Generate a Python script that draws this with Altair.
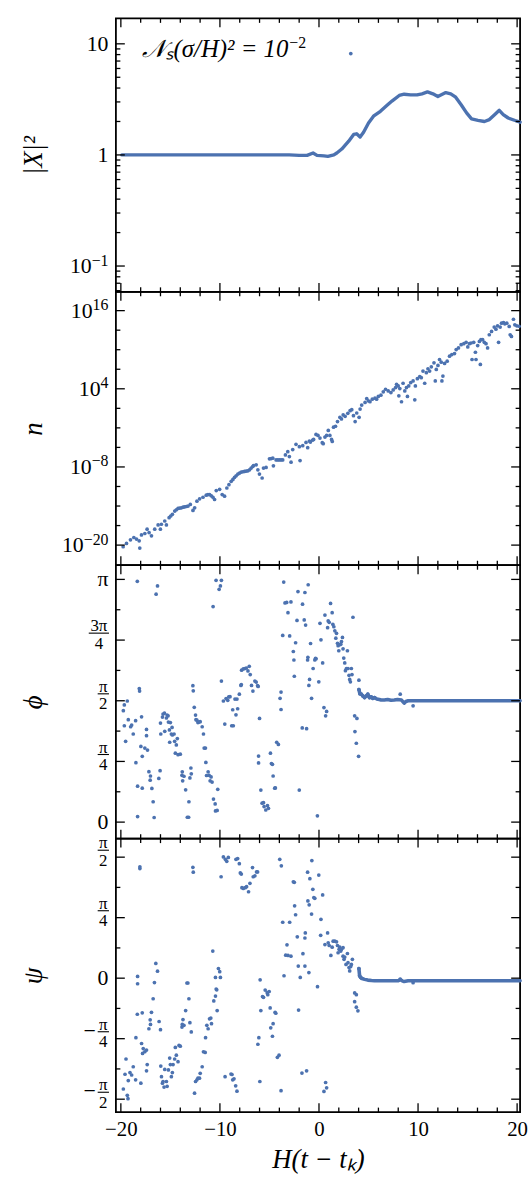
import numpy as np
import pandas as pd
import altair as alt

FONT = "Liberation Serif"
BLUE = "#4c72b0"
W, H = 408, 276
TMAJ, TMIN = 9, 4.5

# ---------------- shared x axis ----------------
x_domain = [-20.5, 20.3]
x_major = [-20, -10, 0, 10, 20]
x_minor = [-18, -16, -14, -12, -8, -6, -4, -2, 2, 4, 6, 8, 12, 14, 16, 18]

# ---------------- panel 1 : |X|^2 ----------------
x1 = [-19.9, -10.0, -3.0, -2.0, -1.2, -0.6, -0.2, 0.5, 0.9, 1.5,
      1.8, 2.3, 3.0, 3.5, 3.8, 4.15, 4.5, 5.0, 5.5, 6.2,
      6.9, 7.4, 8.1, 8.6, 9.25, 9.9, 10.4, 10.95, 11.5, 12.0,
      12.8, 13.3, 13.8, 14.35, 14.9, 15.4, 16.05, 16.7, 17.2, 17.75,
      18.2, 18.6, 19.1, 19.8, 20.3]
X2 = [1.0, 1.0, 1.0, 0.99, 0.99, 1.04, 0.99, 0.98, 0.97, 1.0,
      1.04, 1.13, 1.33, 1.53, 1.55, 1.45, 1.60, 1.94, 2.23, 2.47,
      2.81, 3.07, 3.43, 3.52, 3.47, 3.47, 3.55, 3.69, 3.55, 3.36,
      3.64, 3.55, 3.31, 2.83, 2.39, 2.11, 2.05, 2.00, 2.08, 2.31,
      2.52, 2.31, 2.15, 2.04, 1.97]
x1_stray = [3.21]
X2_stray = [8.17]
y1_domain = [0.0586, 16.94]
y1_major = [0.1, 1, 10]
y1_minor = [0.06, 0.07, 0.08, 0.09, 0.2, 0.3, 0.4, 0.5, 0.6, 0.7, 0.8, 0.9,
            2, 3, 4, 5, 6, 7, 8, 9]
y1_base = ["10", "1", "10"]
y1_exp = ["−1", "", ""]
note_x = [-3.1]
note_y = [8.9]
note_text = ["𝒩ₛ(σ/H)² = 10"]
note_exp = ["−2"]

# ---------------- panel 2 : n (log10 of n) ----------------
x2 = [-19.77, -19.43, -19.03, -18.69, -18.42, -18.15, -18.09, -17.92, -17.58, -17.35,
      -17.15, -16.91, -16.58, -16.24, -16.01, -15.91, -15.57, -15.40, -15.13, -14.97,
      -14.80, -14.56, -14.40, -14.23, -14.06, -13.89, -13.72, -13.56, -13.39, -13.22,
      -12.99, -12.72, -12.55, -12.32, -12.05, -11.71, -11.38, -11.21, -11.04, -10.87,
      -10.70, -10.54, -10.37, -10.03, -9.77, -9.53, -9.30, -9.09, -8.86, -8.69,
      -8.52, -8.36, -8.19, -8.02, -7.85, -7.68, -7.52, -7.35, -7.18, -7.01,
      -6.85, -6.68, -6.61, -6.34, -6.17, -6.01, -5.74, -5.60, -5.34, -5.00,
      -4.83, -4.66, -4.60, -4.33, -4.16, -3.99, -3.82, -3.66, -3.39, -3.15,
      -2.99, -2.82, -2.65, -2.32, -1.98, -1.91, -1.64, -1.31, -1.14, -0.97,
      -0.87, -0.64, -0.54, -0.30, -0.10, 0.10, 0.33, 0.43, 0.60, 0.77,
      0.94, 1.10, 1.27, 1.34, 1.47, 1.67, 1.87, 2.11, 2.27, 2.44,
      2.64, 2.91, 3.14, 3.31, 3.48, 3.65, 3.81, 4.05, 4.15, 4.31,
      4.65, 4.82, 4.98, 5.15, 5.38, 5.65, 5.82, 5.99, 6.25, 6.49,
      6.72, 6.99, 7.26, 7.49, 7.73, 7.83, 8.00, 8.06, 8.16, 8.33,
      8.49, 8.66, 8.83, 8.93, 9.06, 9.26, 9.50, 9.67, 9.73, 9.93,
      10.17, 10.33, 10.50, 10.67, 10.84, 11.00, 11.17, 11.34, 11.61, 11.74,
      11.84, 12.01, 12.17, 12.34, 12.41, 12.51, 12.68, 12.94, 13.18, 13.41,
      13.68, 13.85, 14.08, 14.35, 14.62, 14.85, 15.02, 15.18, 15.35, 15.45,
      15.62, 15.79, 15.85, 16.02, 16.19, 16.29, 16.35, 16.52, 16.69, 16.86,
      17.02, 17.19, 17.42, 17.69, 17.86, 18.03, 18.13, 18.29, 18.43, 18.63,
      18.76, 18.96, 19.20, 19.30, 19.43, 19.63, 19.77, 19.97, 20.20]
n_exp = [-20.25, -19.74, -19.19, -18.83, -19.08, -19.34, -20.45, -18.43, -18.22, -17.56,
         -18.07, -18.58, -17.56, -16.90, -17.56, -16.80, -16.30, -16.90, -15.79, -15.53,
         -15.28, -14.77, -14.57, -14.37, -14.32, -14.27, -14.17, -14.12, -14.07, -14.01,
         -13.76, -14.67, -14.27, -13.25, -12.90, -12.65, -12.34, -12.24, -12.24, -12.44,
         -12.65, -13.00, -11.63, -11.43, -12.24, -12.49, -11.23, -10.72, -10.21, -9.91,
         -9.60, -9.35, -9.10, -8.94, -8.79, -8.74, -8.69, -8.64, -8.59, -8.44,
         -8.18, -7.93, -7.78, -7.68, -8.44, -9.10, -9.70, -8.18, -8.08, -6.76,
         -6.71, -6.66, -7.83, -6.92, -6.92, -6.92, -6.92, -6.92, -6.16, -5.65,
         -6.41, -7.27, -5.34, -4.53, -4.89, -7.02, -4.74, -4.23, -5.04, -4.03,
         -4.18, -3.87, -3.77, -3.00, -3.16, -3.57, -4.28, -4.43, -3.42, -3.16,
         -2.40, -3.16, -3.77, -4.08, -1.90, -1.75, -1.04, -0.38, -0.63, -0.02,
         -0.22, 0.23, 0.64, 0.79, -0.12, -1.04, 0.28, -0.38, 0.89, 1.50,
         1.91, 2.51, 2.16, 2.01, 2.41, 2.56, 2.41, 2.82, 3.02, 3.53,
         3.93, 3.68, 3.42, 3.83, 4.19, 4.69, 4.44, 2.92, 4.03, 2.01,
         4.85, 3.68, 4.19, 2.82, 4.44, 4.95, 5.20, 2.31, 4.44, 5.56,
         5.86, 5.71, 6.72, 4.85, 6.47, 7.08, 6.72, 7.38, 7.99, 5.20,
         6.98, 7.58, 8.50, 8.09, 5.20, 5.96, 7.89, 8.24, 9.00, 9.26,
         9.41, 10.02, 10.27, 10.78, 10.93, 11.13, 10.42, 10.93, 11.03, 8.50,
         11.13, 9.61, 8.50, 10.63, 11.28, 7.74, 11.54, 11.54, 11.13, 10.93,
         10.27, 12.30, 12.81, 13.47, 13.16, 13.67, 11.13, 13.47, 14.07, 14.17,
         13.97, 14.07, 13.57, 12.30, 12.04, 14.68, 13.82, 13.67, 13.60]
y2_domain = [8.13e-24, 7.76e18]
y2_major = [1e-20, 1e-8, 1e4, 1e16]
y2_minor = [1e-17, 1e-14, 1e-11, 1e-5, 1e-2, 1e1, 1e7, 1e10, 1e13]
y2_base = ["10", "10", "10", "10"]
y2_exp = ["−20", "−8", "4", "16"]

# ---------------- panel 3 : phi (in units of pi) ----------------
x3 = [-19.75, -19.65, -19.52, -19.65, -19.35, -19.25, -19.01, -18.91, -18.75, -18.51,
      -18.48, -18.34, -18.31, -18.31, -18.14, -18.11, -17.98, -17.91, -17.84, -17.84,
      -17.58, -17.41, -17.41, -17.31, -17.17, -17.04, -17.01, -16.87, -16.74, -16.64,
      -16.44, -16.30, -16.17, -16.04, -16.00, -15.97, -15.80, -15.74, -15.60, -15.57,
      -15.40, -15.33, -15.23, -15.20, -15.10, -15.07, -15.00, -14.90, -14.83, -14.80,
      -14.63, -14.57, -14.50, -14.40, -14.30, -14.23, -14.00, -13.83, -13.80, -13.76,
      -13.63, -13.46, -13.29, -13.16, -13.13, -12.93, -12.89, -13.03, -12.73, -12.69,
      -12.59, -12.46, -12.42, -12.32, -12.22, -12.12, -11.99, -11.79, -11.66, -11.59,
      -11.46, -11.42, -11.35, -11.19, -11.09, -10.99, -10.89, -10.79, -10.65, -10.48,
      -10.45, -10.28, -10.69, -10.39, -10.08, -9.95, -9.85, -10.22, -9.85, -9.65,
      -9.51, -9.38, -9.21, -9.11, -8.98, -8.81, -8.71, -8.65, -8.48, -8.38,
      -8.28, -8.21, -8.04, -7.88, -7.84, -7.81, -7.64, -7.47, -7.34, -7.17,
      -7.04, -6.94, -6.81, -6.67, -6.47, -6.34, -6.20, -6.14, -6.00, -6.10,
      -6.10, -5.87, -5.74, -5.60, -5.54, -5.37, -5.20, -5.10, -4.90, -4.80,
      -4.70, -4.63, -4.47, -4.40, -4.27, -4.10, -3.93, -3.83, -3.83, -3.66,
      -3.56, -3.43, -3.26, -3.13, -2.96, -2.83, -2.59, -2.53, -2.49, -2.36,
      -2.22, -2.12, -1.99, -1.69, -1.66, -1.49, -1.42, -1.35, -1.25, -1.15,
      -1.12, -1.09, -1.02, -0.95, -0.85, -0.75, -0.59, -0.42, -0.35, -0.29,
      -0.16, -0.02, 0.10, 0.20, 0.37, 0.50, 0.60, 0.67, 0.77, 0.87,
      0.93, 1.03, 1.17, 1.33, 1.40, 1.50, 1.60, 1.70, 1.77, 1.87,
      1.93, 2.00, 2.10, 2.20, 2.27, 2.37, 2.43, 2.50, 2.60, 2.67,
      2.77, 2.87, 2.93, 3.03, 3.10, 3.17, 3.27, 3.33, 3.43, 3.60,
      3.63, 3.77, 3.83, 4.00, 4.03, 4.03, 4.13, 4.27, 4.43, 4.60,
      4.77, 4.93, 5.10, 5.27, 5.43, 5.60, 8.20, 9.50]
phi = [0.459, 0.483, 0.333, 0.397, 0.499, 0.422, 0.393, 0.400, 0.363, 0.418,
       0.245, 0.992, 0.023, 0.148, 0.550, 0.540, 0.312, 0.434, 0.140, 0.271,
       0.305, 0.382, 0.356, 0.297, 0.208, 0.173, 0.190, 0.139, 0.084, 0.019,
       0.939, 0.973, 0.180, 0.212, 0.408, 0.363, 0.433, 0.445, 0.449, 0.374,
       0.429, 0.441, 0.438, 0.412, 0.380, 0.329, 0.410, 0.363, 0.390, 0.359,
       0.363, 0.333, 0.284, 0.318, 0.344, 0.278, 0.280, 0.193, 0.207, 0.170,
       0.189, 0.133, 0.020, 0.020, 0.084, 0.223, 0.199, 0.182, 0.562, 0.541,
       0.473, 0.441, 0.422, 0.420, 0.410, 0.412, 0.414, 0.393, 0.363, 0.305,
       0.305, 0.246, 0.192, 0.207, 0.193, 0.170, 0.186, 0.165, 0.095, 0.075,
       0.046, 0.048, 0.888, 0.996, 0.959, 0.973, 0.996, 0.135, 0.581, 0.499,
       0.404, 0.509, 0.502, 0.516, 0.517, 0.397, 0.463, 0.397, 0.507, 0.442,
       0.507, 0.467, 0.527, 0.563, 0.567, 0.626, 0.631, 0.633, 0.635, 0.623,
       0.642, 0.608, 0.563, 0.540, 0.581, 0.577, 0.562, 0.559, 0.427, 0.272,
       0.244, 0.132, 0.078, 0.080, 0.064, 0.050, 0.068, 0.057, 0.284, 0.241,
       0.238, 0.190, 0.140, 0.141, 0.329, 0.320, 0.510, 0.536, 0.464, 0.769,
       0.989, 0.903, 0.905, 0.863, 0.767, 0.907, 0.703, 0.668, 0.601, 0.739,
       0.831, 0.950, 0.132, 0.388, 0.898, 0.833, 0.946, 0.812, 0.385, 0.668,
       0.679, 0.978, 0.563, 0.588, 0.736, 0.510, 0.633, 0.668, 0.675, 0.673,
       0.026, 0.578, 0.819, 0.751, 0.656, 0.472, 0.853, 0.438, 0.456, 0.801,
       0.829, 0.823, 0.901, 0.863, 0.815, 0.805, 0.788, 0.758, 0.778, 0.737,
       0.727, 0.706, 0.731, 0.733, 0.744, 0.761, 0.714, 0.676, 0.656, 0.624,
       0.633, 0.706, 0.633, 0.605, 0.588, 0.578, 0.633, 0.608, 0.844, 0.438,
       0.373, 0.325, 0.427, 0.271, 0.585, 0.546, 0.529, 0.527, 0.520, 0.513,
       0.520, 0.527, 0.513, 0.516, 0.510, 0.513, 0.527, 0.479]
x3_dense = [4.03, 4.13, 4.27, 4.43, 4.60, 4.77, 4.93, 5.10, 5.27, 5.43,
            5.60, 5.77, 5.93, 6.10, 6.27, 6.60, 6.93, 7.27, 7.60, 7.93,
            8.33, 8.60, 8.77, 9.00, 12.0, 16.0, 20.3]
phi_dense = [0.546, 0.529, 0.527, 0.520, 0.513, 0.520, 0.527, 0.513, 0.516, 0.510,
             0.513, 0.509, 0.506, 0.505, 0.503, 0.503, 0.505, 0.502, 0.503, 0.505,
             0.503, 0.490, 0.497, 0.500, 0.500, 0.500, 0.500]
y3_domain = [-0.0681, 1.0584]
y3_major = [0, 0.25, 0.5, 0.75, 1]
y3_minor = [0.125, 0.375, 0.625, 0.875]

# ---------------- panel 4 : psi (in units of pi) ----------------
x4 = [-19.75, -19.58, -19.48, -19.35, -19.28, -19.25, -19.08, -18.91, -18.75, -18.51,
      -18.48, -18.34, -18.31, -18.31, -18.08, -18.08, -17.98, -17.91, -17.84, -17.81,
      -17.74, -17.58, -17.41, -17.41, -17.34, -17.17, -17.04, -17.01, -16.91, -16.74,
      -16.61, -16.47, -16.30, -16.14, -16.00, -15.97, -15.90, -15.80, -15.74, -15.64,
      -15.57, -15.40, -15.33, -15.20, -15.07, -15.00, -14.90, -14.80, -14.73, -14.57,
      -14.50, -14.40, -14.23, -14.13, -14.00, -13.83, -13.80, -13.73, -13.63, -13.46,
      -13.33, -13.23, -13.13, -13.03, -12.89, -12.73, -12.69, -12.56, -12.46, -12.32,
      -12.22, -12.06, -11.99, -11.79, -11.66, -11.49, -11.45, -11.32, -11.19, -11.05,
      -10.92, -10.85, -10.62, -10.45, -10.38, -10.32, -10.45, -10.28, -10.72, -10.15,
      -10.02, -9.95, -9.88, -9.65, -9.45, -9.31, -9.15, -9.48, -8.88, -8.78,
      -8.71, -8.58, -8.41, -8.28, -8.21, -8.38, -8.04, -7.94, -7.84, -7.78,
      -7.64, -7.44, -7.31, -7.11, -6.97, -6.71, -6.64, -6.47, -6.30, -6.20,
      -6.07, -6.17, -5.97, -5.87, -5.94, -5.70, -5.60, -5.43, -5.23, -5.17,
      -5.03, -4.93, -4.87, -4.70, -4.63, -4.43, -4.36, -4.20, -4.03, -3.96,
      -3.80, -3.83, -3.66, -3.53, -3.36, -3.23, -3.13, -2.96, -2.83, -2.59,
      -2.49, -2.46, -2.36, -2.19, -2.06, -2.09, -1.89, -1.72, -1.62, -1.42,
      -1.42, -1.38, -1.25, -1.15, -1.12, -1.02, -0.99, -0.92, -0.75, -0.72,
      -0.62, -0.52, -0.42, -0.15, -0.02, 0.20, 0.37, 0.17, 0.50, 0.67,
      0.77, 0.60, 0.87, 0.93, 1.03, 1.20, 1.33, 1.43, 1.60, 1.77,
      1.87, 1.93, 2.03, 2.10, 2.20, 2.27, 2.43, 2.43, 2.53, 2.60,
      2.73, 2.87, 2.93, 3.03, 3.10, 3.20, 3.27, 3.37, 3.60, 3.77,
      3.60, 3.77, 3.93, 4.03, 4.10, 4.20, 4.33, 8.20, 9.50]
psi = [-0.458, -0.397, -0.334, -0.484, -0.498, -0.423, -0.390, -0.400, -0.366, -0.420,
       -0.246, -0.149, -0.023, 0.007, 0.453, 0.460, -0.434, -0.270, -0.143, -0.311,
       -0.291, -0.304, -0.297, -0.383, -0.357, -0.209, -0.172, -0.191, -0.141, -0.085,
       -0.018, 0.061, 0.029, -0.179, -0.213, -0.363, -0.407, -0.434, -0.427, -0.450,
       -0.377, -0.427, -0.447, -0.379, -0.330, -0.357, -0.407, -0.390, -0.357, -0.334,
       -0.286, -0.318, -0.345, -0.278, -0.281, -0.202, -0.191, -0.171, -0.195, -0.134,
       -0.020, -0.020, -0.085, -0.184, -0.222, 0.458, 0.438, -0.475, -0.427, -0.420,
       -0.413, -0.413, -0.393, -0.366, -0.304, -0.307, -0.246, -0.195, -0.209, -0.168,
       -0.165, -0.188, -0.094, -0.074, -0.045, -0.048, 0.003, -0.134, 0.112, 0.040,
       0.027, 0.003, 0.419, 0.501, 0.491, 0.483, 0.499, -0.407, -0.396, -0.398,
       -0.420, -0.416, -0.445, -0.467, 0.494, 0.491, 0.473, 0.435, 0.430, 0.374,
       0.371, 0.374, 0.378, 0.357, 0.392, 0.457, 0.419, 0.423, 0.439, 0.439,
       -0.246, -0.273, -0.427, -0.134, -0.007, -0.076, -0.079, -0.049, -0.060, -0.068,
       -0.055, -0.123, -0.205, -0.240, -0.188, -0.141, -0.145, -0.327, -0.318, 0.491,
       0.464, -0.465, 0.231, 0.010, 0.095, 0.138, 0.094, 0.231, 0.091, 0.398,
       0.396, 0.299, 0.262, 0.171, -0.132, 0.050, 0.003, -0.392, 0.101, 0.166,
       0.050, 0.187, -0.383, 0.438, 0.319, 0.023, 0.303, 0.411, 0.265, 0.486,
       0.367, 0.333, 0.330, -0.035, 0.426, 0.243, 0.344, 0.177, -0.468, -0.431,
       -0.453, 0.139, 0.187, 0.146, 0.135, 0.094, 0.128, 0.153, 0.153, 0.150,
       0.135, 0.105, 0.119, 0.128, 0.112, 0.119, 0.126, 0.091, 0.078, 0.087,
       0.057, 0.102, 0.064, 0.044, 0.030, 0.048, 0.057, 0.078, -0.061, -0.068,
       -0.097, -0.120, -0.135, 0.040, 0.010, 0.003, -0.001, -0.004, -0.019]
x4_dense = [4.03, 4.10, 4.20, 4.33, 4.60, 4.93, 5.30, 5.60, 6.90, 8.00,
            8.20, 8.40, 8.60, 9.00, 12.0, 16.0, 20.3]
psi_dense = [0.040, 0.010, 0.003, -0.001, -0.005, -0.008, -0.010, -0.011, -0.011, -0.011,
             -0.006, -0.011, -0.014, -0.011, -0.011, -0.011, -0.011]
y4_domain = [-0.5532, 0.5765]
y4_major = [-0.5, -0.25, 0, 0.25, 0.5]
y4_minor = [-0.375, -0.125, 0.125, 0.375]

# ======================================================================
XS = alt.Scale(domain=x_domain, nice=False, zero=False)
LABEL_X = -7.5   # right edge of the y tick labels (pixels from the frame)
EXP_FS = 16      # exponent font size


def title_axis(txt):
    return alt.Axis(title=txt, labels=False, ticks=False, domain=False, grid=False,
                    titleX=-83, titleY=H / 2, titleAngle=270, titleAlign="center",
                    titleBaseline="middle", titleFont=FONT, titleFontSize=27,
                    titleFontStyle="italic", titleFontWeight="normal", titleColor="black")


def make_panel(ys, yaxis, xaxis, y_major, y_minor, content):
    def X(f):
        return alt.X(f"{f}:Q", scale=XS, axis=xaxis)

    def Y(f):
        return alt.Y(f"{f}:Q", scale=ys, axis=yaxis)

    layers = list(content(X, Y))
    for vals, L in ((x_major, TMAJ), (x_minor, TMIN)):
        r = alt.Chart(pd.DataFrame({"tx": vals})).mark_rule(color="black", strokeWidth=1.3)
        layers.append(r.encode(x=X("tx"), y=alt.value(0), y2=alt.value(L)))
        layers.append(r.encode(x=X("tx"), y=alt.value(H), y2=alt.value(H - L)))
    for vals, L in ((y_major, TMAJ), (y_minor, TMIN)):
        r = alt.Chart(pd.DataFrame({"ty": vals})).mark_rule(color="black", strokeWidth=1.3)
        layers.append(r.encode(y=Y("ty"), x=alt.value(0), x2=alt.value(L)))
        layers.append(r.encode(y=Y("ty"), x=alt.value(W), x2=alt.value(W - L)))
    return alt.layer(*layers).properties(width=W, height=H)


def exp_width(s):
    return sum(0.56 * EXP_FS if c == "−" else 0.5 * EXP_FS for c in s)


def power_labels(Y, vals, bases, exps):
    out = []
    for v, b, e in zip(vals, bases, exps):
        df = pd.DataFrame({"v": [v], "b": [b], "e": [e]})
        x0 = LABEL_X - exp_width(e)
        out.append(alt.Chart(df).mark_text(align="right", baseline="middle", font=FONT,
                                           fontSize=22, color="black").encode(
            y=Y("v"), x=alt.value(x0), text="b:N"))
        if e:
            out.append(alt.Chart(df).mark_text(align="left", baseline="alphabetic", font=FONT,
                                               fontSize=EXP_FS, color="black", dy=-0.5).encode(
                y=Y("v"), x=alt.value(x0), text="e:N"))
    return out


def plain_labels(Y, vals, texts):
    df = pd.DataFrame({"v": vals, "t": texts})
    return alt.Chart(df).mark_text(align="right", baseline="middle", font=FONT,
                                   fontSize=22, color="black").encode(
        y=Y("v"), x=alt.value(LABEL_X), text="t:N")


def frac_labels(Y, vals, nums, dens, cx, bw, minus=False):
    df = pd.DataFrame({"v": vals, "num": nums, "den": dens})
    st = dict(font=FONT, fontSize=17, color="black", align="center", baseline="alphabetic")
    out = [
        alt.Chart(df).mark_text(dy=-9, **st).encode(y=Y("v"), x=alt.value(cx), text="num:N"),
        alt.Chart(df).mark_text(dy=8.5, **st).encode(y=Y("v"), x=alt.value(cx), text="den:N"),
        alt.Chart(df).mark_rule(color="black", strokeWidth=1.1, yOffset=-7).encode(
            y=Y("v"), x=alt.value(cx - bw / 2), x2=alt.value(cx + bw / 2)),
    ]
    if minus:
        out.append(alt.Chart(df).mark_text(font=FONT, fontSize=22, color="black",
                                           align="right", baseline="middle", dy=-8).encode(
            y=Y("v"), x=alt.value(cx - bw / 2 - 2), text=alt.value("−")))
    return out


def dots(df, X, Y, xf, yf):
    return alt.Chart(df).mark_circle(size=14, color=BLUE, opacity=1).encode(x=X(xf), y=Y(yf))


def dense_line(df, X, Y, xf, yf, width=3.6):
    return alt.Chart(df).mark_line(color=BLUE, strokeWidth=width, strokeJoin="round",
                                   strokeCap="round").encode(x=X(xf), y=Y(yf), order=f"{xf}:Q")


# ---- panel 1
YS1 = alt.Scale(type="log", domain=y1_domain, nice=False)
d1 = pd.DataFrame({"x": x1, "y": X2})
d1s = pd.DataFrame({"x": x1_stray, "y": X2_stray})
dnote = pd.DataFrame({"x": note_x, "y": note_y, "t": note_text, "e": note_exp})


def c1(X, Y):
    return [
        dense_line(d1, X, Y, "x", "y", 3.4),
        dots(d1s, X, Y, "x", "y"),
        alt.Chart(dnote).mark_text(align="right", baseline="middle", font=FONT, fontSize=25,
                                   fontStyle="italic", color="black").encode(
            x=X("x"), y=Y("y"), text="t:N"),
        alt.Chart(dnote).mark_text(align="left", baseline="alphabetic", font=FONT,
                                   fontSize=EXP_FS, color="black", dy=-1, dx=1).encode(
            x=X("x"), y=Y("y"), text="e:N"),
        *power_labels(Y, y1_major, y1_base, y1_exp),
    ]


p1 = make_panel(YS1, title_axis("|X|²"), None, y1_major, y1_minor, c1)

# ---- panel 2
YS2 = alt.Scale(type="log", domain=y2_domain, nice=False)
d2 = pd.DataFrame({"x": x2, "n": [10.0 ** e for e in n_exp]})


def c2(X, Y):
    return [dots(d2, X, Y, "x", "n"), *power_labels(Y, y2_major, y2_base, y2_exp)]


p2 = make_panel(YS2, title_axis("n"), None, y2_major, y2_minor, c2)

# ---- panel 3
YS3 = alt.Scale(domain=y3_domain, nice=False, zero=False)
d3 = pd.DataFrame({"x": x3, "phi": phi})
d3d = pd.DataFrame({"x": x3_dense, "phi": phi_dense})


def c3(X, Y):
    return [
        dense_line(d3d, X, Y, "x", "phi"),
        dots(d3, X, Y, "x", "phi"),
        plain_labels(Y, [0, 1], ["0", "π"]),
        *frac_labels(Y, [0.25, 0.5], ["π", "π"], ["4", "2"], -12.7, 11.4),
        *frac_labels(Y, [0.75], ["3π"], ["4"], -17.2, 20.4),
    ]


p3 = make_panel(YS3, title_axis("ϕ"), None, y3_major, y3_minor, c3)

# ---- panel 4
YS4 = alt.Scale(domain=y4_domain, nice=False, zero=False)
d4 = pd.DataFrame({"x": x4, "psi": psi})
d4d = pd.DataFrame({"x": x4_dense, "psi": psi_dense})
x_axis4 = alt.Axis(values=x_major, ticks=False, domain=False, grid=False,
                   labelFont=FONT, labelFontSize=21, labelColor="black", labelPadding=7,
                   labelFlush=False,
                   title="H(t − tₖ)", titleFont=FONT, titleFontSize=27,
                   titleFontStyle="italic", titleFontWeight="normal", titleColor="black",
                   titlePadding=7)


def c4(X, Y):
    return [
        dense_line(d4d, X, Y, "x", "psi"),
        dots(d4, X, Y, "x", "psi"),
        plain_labels(Y, [0], ["0"]),
        *frac_labels(Y, [0.5, 0.25], ["π", "π"], ["2", "4"], -12.7, 11.4),
        *frac_labels(Y, [-0.25, -0.5], ["π", "π"], ["4", "2"], -12.7, 11.4, minus=True),
    ]


p4 = make_panel(YS4, title_axis("ψ"), x_axis4, y4_major, y4_minor, c4)

chart = alt.vconcat(p1, p2, p3, p4, spacing=0, bounds="flush").properties(
    padding={"left": 19, "top": 11, "right": 0, "bottom": 0},
    background="white",
).configure_view(stroke="black", strokeWidth=1.8).configure_axis(grid=False)

chart.save("out.html", embed_options={"renderer": "svg", "actions": False})
